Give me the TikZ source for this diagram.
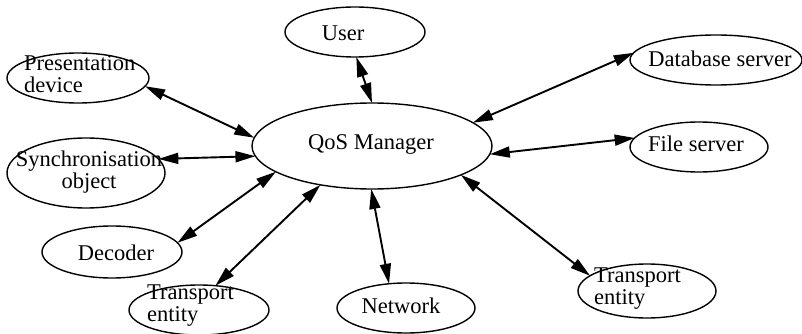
\documentclass[tikz,border=0pt]{standalone}
\usepackage{fontspec}
\setmainfont{Liberation Serif}
\usetikzlibrary{arrows.meta,shapes.geometric}
\begin{document}
\begin{tikzpicture}[x=1pt,y=-1pt,
  ell/.style={draw,ellipse,line width=1.4pt,inner sep=0pt,outer sep=0pt},
  lbl/.style={font=\fontsize{22.5}{22}\selectfont,inner sep=0pt},
  link/.style={line width=1.9pt,{Triangle[length=20pt,width=11pt]}-{Triangle[length=20pt,width=11pt]}}]
\useasboundingbox (0,0) rectangle (802,334);
% ellipses
\node[ell,minimum width=240pt,minimum height=86pt] (qos) at (372,146) {};
\node[ell,minimum width=140pt,minimum height=50pt] (user) at (355,32) {};
\node[ell,minimum width=142pt,minimum height=50pt] (pres) at (78,78) {};
\node[ell,minimum width=158pt,minimum height=70pt] (sync) at (86,173) {};
\node[ell,minimum width=140pt,minimum height=52pt] (dec) at (112,252) {};
\node[ell,minimum width=140pt,minimum height=50pt] (trl) at (199,310) {};
\node[ell,minimum width=138pt,minimum height=50pt] (net) at (406,308) {};
\node[ell,minimum width=138pt,minimum height=54pt] (trr) at (647,291) {};
\node[ell,minimum width=172pt,minimum height=50pt] (db) at (716,60) {};
\node[ell,minimum width=138pt,minimum height=50pt] (file) at (699,147) {};
% labels
\node[lbl] (qosT) at (371,144) {QoS Manager};
\node[lbl] (userT) at (343,33) {User};
\node[lbl,align=left,anchor=west] (presT) at (24,74) {Presentation\\device};
\node[lbl,align=center] (syncT) at (89,172) {Synchronisation\\object};
\node[lbl] (decT) at (116,253) {Decoder};
\node[lbl,align=left,anchor=west] (trlT) at (147,306) {Transport\\entity};
\node[lbl] (netT) at (401,306) {Network};
\node[lbl,align=left,anchor=west] (trrT) at (594,289) {Transport\\entity};
\node[lbl] (dbT) at (720,59) {Database server};
\node[lbl] (fileT) at (696,144) {File server};
% connectors
\draw[link] (user.273) -- (qos.90);
\draw[link] (pres.353) -- (qos.176);
\draw[link] (sync.11) -- (qos.185);
\draw[link] (dec.8) -- (qos.195);
\draw[link] (trl.56) -- (qos.217);
\draw[link] (net.125) -- (qos.269);
\draw[link] (trr.165) -- (qos.342);
\draw[link] (db.175) -- (qos.13);
\draw[link] (file.172) -- (qos.356);
\end{tikzpicture}
\end{document}
